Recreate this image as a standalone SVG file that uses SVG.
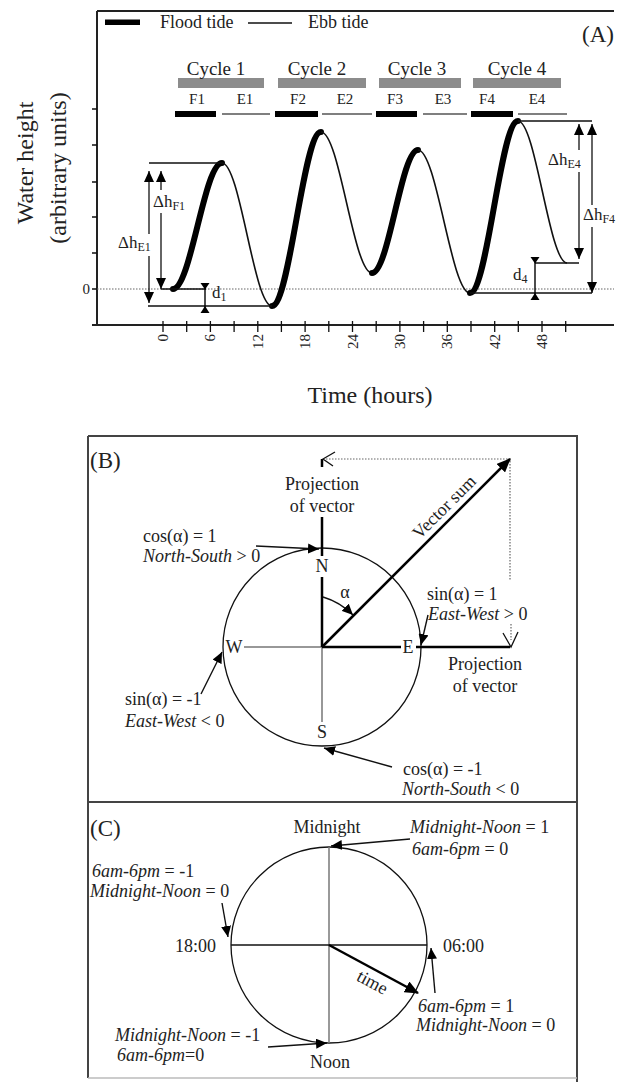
<svg xmlns="http://www.w3.org/2000/svg" width="621" height="1082" viewBox="0 0 621 1082">
<style>
.t{font-family:"Liberation Serif","Times New Roman",serif;fill:#222}
.i{font-style:italic}
.ax{stroke:#222;stroke-width:2;fill:none}
.thin{stroke:#111;stroke-width:1.3;fill:none}
.flood{stroke:#000;stroke-width:6;fill:none;stroke-linecap:round}
.ebb{stroke:#111;stroke-width:1.6;fill:none}
.dot{stroke:#666;stroke-width:1.2;stroke-dasharray:1.5 1.5;fill:none}
.conn{stroke:#111;stroke-width:1.4;fill:none;marker-end:url(#ah)}
.thick{stroke:#000;stroke-width:2.5;fill:none}
.gray{stroke:#777;stroke-width:1.5;fill:none}
.cyc{fill:#8c8c8c}
.fbar{fill:#000}
.ebar{stroke:#555;stroke-width:1.6}
</style>
<defs>
<marker id="ah" viewBox="0 0 11 10" refX="11" refY="5" markerWidth="11" markerHeight="10" markerUnits="userSpaceOnUse" orient="auto-start-reverse"><path d="M0,0 L11,5 L0,10 Z" fill="#000"/></marker>
<marker id="ahL" viewBox="0 0 14 12" refX="13" refY="6" markerWidth="14" markerHeight="12" markerUnits="userSpaceOnUse" orient="auto"><path d="M0,0 L14,6 L0,12 Z" fill="#000"/></marker>
</defs>
<rect width="621" height="1082" fill="#fff"/>

<!-- ================= Panel A ================= -->
<g id="panelA">
  <g id="axes">
    <path class="ax" d="M97,11 H614 M97,11 V325 M92,325 H614"/>
    <path class="thin" d="M92,109 H97 M92,145 H97 M92,182 H97 M92,217 H97 M92,253 H97 M92,289 H97"/>
    <path class="dot" d="M97,289 H614"/>
    <path class="thin" stroke-width="1.8" d="M163,321 V332 M186.7,321 V332 M210.4,321 V332 M234.1,321 V332 M257.8,321 V332 M281.4,321 V332 M305.1,321 V332 M328.8,321 V332 M352.5,321 V332 M376.2,321 V332 M399.9,321 V332 M423.6,321 V332 M447.3,321 V332 M471,321 V332 M494.7,321 V332 M518.3,321 V332 M542,321 V332 M565.7,321 V332"/>
    <g class="t" font-size="15" text-anchor="end">
      <text x="90" y="294">0</text>
      <text transform="translate(168,334) rotate(-90)">0</text>
      <text transform="translate(215.4,334) rotate(-90)">6</text>
      <text transform="translate(262.8,334) rotate(-90)">12</text>
      <text transform="translate(310.1,334) rotate(-90)">18</text>
      <text transform="translate(357.5,334) rotate(-90)">24</text>
      <text transform="translate(404.9,334) rotate(-90)">30</text>
      <text transform="translate(452.3,334) rotate(-90)">36</text>
      <text transform="translate(499.7,334) rotate(-90)">42</text>
      <text transform="translate(547,334) rotate(-90)">48</text>
    </g>
    <text class="t" font-size="24" text-anchor="middle" transform="translate(33,163) rotate(-90)">Water height</text>
    <text class="t" font-size="24" text-anchor="middle" transform="translate(66,168) rotate(-90)">(arbitrary units)</text>
    <text class="t" font-size="24" text-anchor="middle" x="370" y="403">Time (hours)</text>
    <text class="t" font-size="23" x="582" y="42">(A)</text>
  </g>

  <g id="legend">
    <rect x="105" y="19.5" width="35" height="5.5" fill="#000"/>
    <text class="t" font-size="18" x="160" y="28">Flood tide</text>
    <path class="thin" d="M248,23 H292"/>
    <text class="t" font-size="18" x="308" y="28">Ebb tide</text>
  </g>

  <g id="cycles">
    <rect class="cyc" x="178" y="78" width="86" height="10"/>
    <rect class="cyc" x="278" y="78" width="88" height="10"/>
    <rect class="cyc" x="379" y="78" width="82" height="10"/>
    <rect class="cyc" x="473" y="78" width="88" height="10"/>
    <g class="t" font-size="19" text-anchor="middle">
      <text x="216" y="75">Cycle 1</text>
      <text x="317" y="75">Cycle 2</text>
      <text x="417" y="75">Cycle 3</text>
      <text x="517" y="75">Cycle 4</text>
    </g>
    <rect class="fbar" x="175" y="111" width="41" height="6"/>
    <rect class="fbar" x="275" y="111" width="43" height="6"/>
    <rect class="fbar" x="376" y="111" width="41" height="6"/>
    <rect class="fbar" x="471" y="111" width="42" height="6"/>
    <path class="ebar" d="M222,114 H270 M322,114 H372 M423,114 H467 M518,114 H567"/>
    <g class="t" font-size="15" text-anchor="middle">
      <text x="197" y="104">F1</text>
      <text x="245" y="104">E1</text>
      <text x="298" y="104">F2</text>
      <text x="345" y="104">E2</text>
      <text x="395" y="104">F3</text>
      <text x="443" y="104">E3</text>
      <text x="487" y="104">F4</text>
      <text x="537" y="104">E4</text>
    </g>
  </g>

  <g id="curve">
    <path class="flood" d="M173,289 C190.8,289 204.2,163 222,163"/>
    <path class="ebb" d="M222,163 C240.2,163 253.8,306 272,306"/>
    <path class="flood" d="M272,306 C289.8,306 303.2,132 321,132"/>
    <path class="ebb" d="M321,132 C339.6,132 353.4,273 372,273"/>
    <path class="flood" d="M372,273 C388.8,273 401.2,150 418,150"/>
    <path class="ebb" d="M418,150 C436.9,150 451.1,293 470,293"/>
    <path class="flood" d="M470,293 C487.5,293 500.5,121 518,121"/>
    <path class="ebb" d="M518,121 C535.8,121 549.2,263 567,263"/>
  </g>

  <g id="annotations">
    <path class="thin" d="M149,163 H222 M148,306 H272 M161,289 H206 M518,121 H592 M535,263 H579 M470,293 H592"/>
    <g class="thin" marker-start="url(#ah)">
      <path d="M149,171 V234"/>
      <path d="M161,171 V190"/>
      <path d="M579,124 V150"/>
      <path d="M592,124 V205"/>
    </g>
    <g class="thin" marker-end="url(#ah)">
      <path d="M149,256 V303"/>
      <path d="M161,213 V289"/>
      <path d="M579,172 V259"/>
      <path d="M592,227 V293"/>
    </g>
    <g class="t" font-size="17">
      <text x="153" y="207">Δh<tspan font-size="12" dy="3">F1</tspan></text>
      <text x="118" y="248">Δh<tspan font-size="12" dy="3">E1</tspan></text>
      <text x="548" y="165">Δh<tspan font-size="12" dy="3">E4</tspan></text>
      <text x="583" y="220">Δh<tspan font-size="12" dy="3">F4</tspan></text>
      <text x="212" y="298">d<tspan font-size="12" dy="3">1</tspan></text>
      <text x="513" y="280">d<tspan font-size="12" dy="3">4</tspan></text>
    </g>
    <g fill="#000">
      <path d="M205,283 V313" stroke="#000" stroke-width="1.4"/>
      <path d="M200.5,283 H209.5 L205,289.5 Z"/>
      <path d="M200.5,313 H209.5 L205,306 Z"/>
      <path d="M535,257 V300" stroke="#000" stroke-width="1.4"/>
      <path d="M530.5,257 H539.5 L535,263.5 Z"/>
      <path d="M530.5,300 H539.5 L535,293 Z"/>
    </g>
  </g>
</g>

<!-- ================= Frames B/C ================= -->
<g id="frames">
  <path d="M88,436 H577 V1082 M88,802 H577 M88,436 V1078" stroke="#444" stroke-width="2" fill="none"/>
  <path d="M88,1078 H577" stroke="#bbb" stroke-width="1.5" fill="none"/>
</g>

<!-- ================= Panel B ================= -->
<g id="panelB">
  <text class="t" font-size="23" x="90" y="468">(B)</text>
  <g id="compassB">
    <circle cx="322" cy="647" r="99" fill="none" stroke="#111" stroke-width="1.3"/>
    <path class="gray" d="M322,647 H244 M322,647 V722"/>
    <path class="thick" stroke-width="2.2" d="M322,459 V467 M322,517 V556 M322,577 V647 M322,647 H401 M416,647 H510"/>
    <path class="thin" d="M335,452 L323,459 L333,466"/>
    <path class="thin" d="M503,633 L511,647 L518,632"/>
    <path class="dot" d="M326,459 H510 V580 M511,624 V640"/>
    <g class="t" font-size="18" text-anchor="middle">
      <text x="322" y="572">N</text>
      <text x="322" y="738">S</text>
      <text x="234" y="653">W</text>
      <text x="408" y="653">E</text>
      <text x="345" y="598">α</text>
      <text x="322" y="490">Projection</text>
      <text x="322" y="512">of vector</text>
      <text x="485" y="670">Projection</text>
      <text x="485" y="692">of vector</text>
      <text transform="translate(444,507) rotate(-45)" y="6">Vector sum</text>
    </g>
  </g>
  <g id="labelsB" class="t" font-size="18">
    <text x="143" y="542">cos(α) = 1</text>
    <text x="143" y="562"><tspan class="i">North-South</tspan> &gt; 0</text>
    <text x="427" y="600">sin(α) = 1</text>
    <text x="428" y="620"><tspan class="i">East-West</tspan> &gt; 0</text>
    <text x="125" y="705">sin(α) = -1</text>
    <text x="125" y="727"><tspan class="i">East-West</tspan> &lt; 0</text>
    <text x="403" y="775">cos(α) = -1</text>
    <text x="402" y="795"><tspan class="i">North-South</tspan> &lt; 0</text>
  </g>
  <g id="connectorsB">
    <path class="thick" marker-end="url(#ahL)" d="M322,647 L510,459"/>
    <path class="conn" stroke-width="1.6" d="M323,597 Q340,602 353,615"/>
    <path class="conn" d="M256,546 L319,549"/>
    <path class="conn" d="M428,615 L421,645"/>
    <path class="conn" d="M201,694 L222,652"/>
    <path class="conn" d="M392,767 L324,748"/>
  </g>
</g>

<!-- ================= Panel C ================= -->
<g id="panelC">
  <text class="t" font-size="23" x="90" y="836">(C)</text>
  <g id="clockC">
    <circle cx="329" cy="945" r="98" fill="none" stroke="#111" stroke-width="1.3"/>
    <path class="gray" d="M329,847 V1043"/>
    <path class="thin" d="M231,945 H427"/>
    <g class="t" font-size="18" text-anchor="middle">
      <text x="327" y="833">Midnight</text>
      <text x="330" y="1068">Noon</text>
      <text transform="translate(372,983) rotate(28)" y="5">time</text>
    </g>
    <g class="t" font-size="18">
      <text x="175" y="952">18:00</text>
      <text x="443" y="952">06:00</text>
    </g>
  </g>
  <g id="labelsC" class="t" font-size="18">
    <text x="410" y="833"><tspan class="i">Midnight-Noon</tspan> = 1</text>
    <text x="412" y="855"><tspan class="i">6am-6pm</tspan> = 0</text>
    <text x="92" y="877"><tspan class="i">6am-6pm</tspan> = -1</text>
    <text x="90" y="897"><tspan class="i">Midnight-Noon</tspan> = 0</text>
    <text x="418" y="1012"><tspan class="i">6am-6pm</tspan> = 1</text>
    <text x="416" y="1031"><tspan class="i">Midnight-Noon</tspan> = 0</text>
    <text x="115" y="1041"><tspan class="i">Midnight-Noon</tspan> = -1</text>
    <text x="117" y="1061"><tspan class="i">6am-6pm</tspan>=0</text>
  </g>
  <g id="connectorsC">
    <path class="thick" marker-end="url(#ahL)" d="M329,945 L418,993"/>
    <path class="conn" d="M410,839 L331,846"/>
    <path class="conn" d="M222,903 L228,937"/>
    <path class="conn" d="M435,993 L431,948"/>
    <path class="conn" d="M268,1047 L327,1043"/>
  </g>
</g>
</svg>
